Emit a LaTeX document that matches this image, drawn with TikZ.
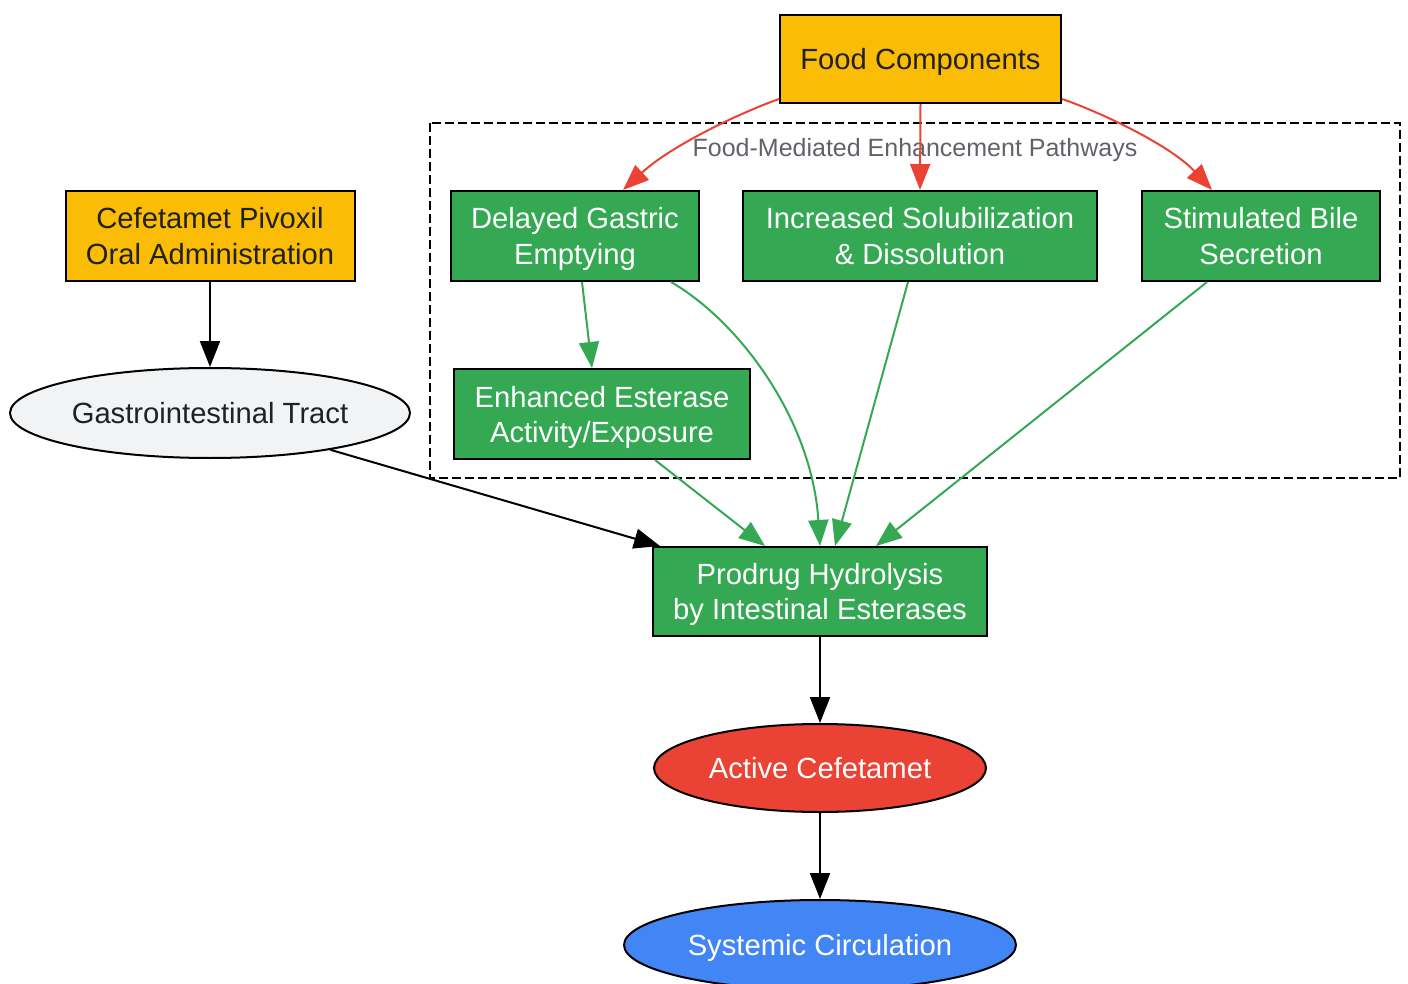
\documentclass[tikz,border=0pt]{standalone}
\usepackage{fontspec}
\setmainfont{Liberation Sans}
\usetikzlibrary{arrows.meta,shapes.geometric,calc}
\definecolor{gyellow}{HTML}{FBBC05}
\definecolor{ggreen}{HTML}{34A853}
\definecolor{gred}{HTML}{EA4335}
\definecolor{gblue}{HTML}{4285F4}
\definecolor{ggrey}{HTML}{F1F3F4}
\definecolor{gtext}{HTML}{202124}
\definecolor{glabel}{HTML}{5F6368}
\begin{document}
\begin{tikzpicture}[x=0.5pt,y=-0.5pt,
  base/.style={draw=black,line width=1pt,inner sep=0pt,align=center,
    font=\fontsize{14.6pt}{17.5pt}\selectfont,text height=10.5pt,text depth=0pt},
  two/.style={text height=28pt,text depth=0pt},
  ybox/.style={base,rectangle,fill=gyellow,text=gtext},
  gbox/.style={base,rectangle,fill=ggreen,text=white},
  ell/.style={base,ellipse},
  blk/.style={draw=black,line width=1pt,-{Triangle[length=13pt,width=10pt]}},
  redge/.style={draw=gred,line width=1pt,-{Triangle[length=13pt,width=10pt]}},
  gedge/.style={draw=ggreen,line width=1pt,-{Triangle[length=13pt,width=10pt]}}]
\useasboundingbox (0,0) rectangle (1408,984);
% cluster
\draw[line width=1.2pt,dash pattern=on 4.5pt off 2pt] (430,123) rectangle (1400,478);
\node[text=glabel,font=\fontsize{12.5pt}{15pt}\selectfont,text height=9pt,text depth=0pt,inner sep=0pt] (clabel) at (915,148) {Food-Mediated Enhancement Pathways};
% nodes
\node[ybox,minimum width=140.5pt,minimum height=44pt] (food) at (920.5,59) {Food Components};
\node[gbox,two,minimum width=124pt,minimum height=45pt] (delayed) at (575,236) {Delayed Gastric\\Emptying};
\node[gbox,two,minimum width=177pt,minimum height=45pt] (incr) at (920,236) {Increased Solubilization\\\& Dissolution};
\node[gbox,two,minimum width=119pt,minimum height=45pt] (bile) at (1261,236) {Stimulated Bile\\Secretion};
\node[gbox,two,minimum width=148pt,minimum height=45pt] (enh) at (602,414) {Enhanced Esterase\\Activity/Exposure};
\node[ybox,two,minimum width=144.5pt,minimum height=45pt] (cef) at (210,236) {Cefetamet Pivoxil\\Oral Administration};
\node[ell,fill=ggrey,text=gtext,minimum width=200pt,minimum height=45pt] (gi) at (210,413) {Gastrointestinal Tract};
\node[gbox,two,minimum width=167pt,minimum height=44.5pt] (prod) at (820,591.5) {Prodrug Hydrolysis\\by Intestinal Esterases};
\node[ell,fill=gred,text=white,minimum width=166pt,minimum height=44pt] (act) at (820,768) {Active Cefetamet};
\node[ell,fill=gblue,text=white,minimum width=196pt,minimum height=45pt] (sys) at (820,945) {Systemic Circulation};
% red edges
\draw[redge] ($(food.south west)+(0,-5)$) .. controls (742,112) and (672,145) .. ($(delayed.north west)+(173,0)$);
\draw[redge] (food.south) -- (incr.north);
\draw[redge] ($(food.south east)+(0,-5)$) .. controls (1100,112) and (1170,145) .. ($(bile.north west)+(71,0)$);
% green edges
\draw[gedge] ($(delayed.south)+(7,0)$) -- ($(enh.north)+(-10,0)$);
\draw[gedge] ($(delayed.south)+(96,0)$) .. controls (740,322) and (812,420) .. ($(prod.north)+(0,0)$);
\draw[gedge] ($(incr.south)+(-12,0)$) -- ($(prod.north)+(15,0)$);
\draw[gedge] ($(bile.south)+(-54,0)$) -- ($(prod.north)+(56,0)$);
\draw[gedge] ($(enh.south)+(53,0)$) -- ($(prod.north)+(-55,0)$);
% black edges
\draw[blk] (cef) -- (gi);
\draw[blk] (gi.-17.5) -- ($(prod.north west)+(8,0)$);
\draw[blk] (prod) -- (act);
\draw[blk] (act) -- (sys);
\end{tikzpicture}
\end{document}
